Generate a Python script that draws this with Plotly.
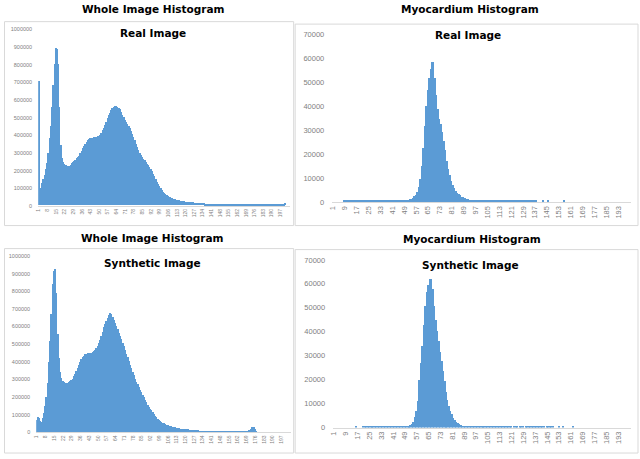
import plotly.graph_objects as go

W, H = 640, 459
BLUE = "#5B9BD5"
GREY = "#7F7F7F"
BORDER = "#D9D9D9"

# whole image histograms, counts in thousands (bins 1, 2, 3, ...)
real_whole_k = [
    705, 75, 100, 125, 150, 175, 205, 240, 300, 380,
    450, 560, 680, 800, 895, 885, 800, 560, 340, 270,
    245, 235, 228, 225, 224, 226, 232, 240, 248, 254,
    260, 268, 275, 283, 295, 310, 325, 338, 350, 360,
    370, 376, 380, 383, 385, 387, 389, 390, 392, 394,
    400, 412, 425, 440, 455, 475, 495, 510, 525, 540,
    550, 557, 561, 562, 560, 555, 545, 530, 515, 500,
    487, 475, 462, 450, 438, 420, 405, 390, 370, 350,
    330, 312, 298, 285, 275, 265, 255, 245, 237, 228,
    218, 208, 195, 180, 165, 150, 135, 122, 110, 98,
    88, 78, 70, 64, 60, 55, 50, 46, 42, 39,
    36, 34, 32, 30, 29, 27, 25, 24, 23, 22,
    21, 20, 19, 18, 17, 17, 16, 15, 15, 14,
    13, 13, 12, 12, 12, 11, 11, 11, 11, 11,
    11, 10, 10, 10, 10, 10, 10, 10, 9, 9,
    9, 9, 9, 9, 9, 8, 8, 8, 8, 8,
    8, 8, 8, 8, 8, 8, 7, 7, 7, 7,
    7, 7, 7, 7, 7, 7, 6, 6, 6, 6,
    6, 6, 6, 6, 6, 6, 6, 6, 6, 5,
    5, 5, 5, 5, 5, 5, 5, 5, 5, 5,
    12,
]
synth_whole_k = [
    72, 90, 82, 65, 62, 80, 110, 150, 200, 280,
    400, 520, 670, 840, 915, 925, 790, 560, 420, 340,
    310, 293, 285, 281, 280, 282, 286, 291, 297, 305,
    318, 333, 350, 368, 385, 402, 416, 427, 436, 442,
    446, 449, 451, 452, 453, 455, 460, 468, 478, 490,
    505, 525, 548, 572, 595, 615, 633, 650, 665, 675,
    670, 657, 640, 622, 603, 584, 565, 546, 528, 508,
    488, 466, 445, 425, 405, 385, 365, 345, 325, 305,
    288, 272, 257, 242, 228, 213, 199, 186, 172, 158,
    145, 135, 125, 115, 105, 96, 87, 79, 71, 64,
    59, 55, 51, 48, 45, 42, 39, 37, 35, 32,
    30, 29, 27, 25, 24, 22, 21, 20, 19, 18,
    17, 17, 16, 16, 15, 15, 14, 13, 13, 12,
    11, 11, 10, 10, 9, 9, 8, 8, 7, 7,
    7, 6, 6, 6, 6, 6, 6, 6, 5, 5,
    5, 5, 5, 5, 5, 5, 5, 5, 5, 5,
    5, 5, 5, 6, 6, 6, 6, 7, 8, 9,
    12, 16, 22, 33, 30, 18, 8,
]

# myocardium histograms, raw counts (bins 1, 2, 3, ...)
real_myo = [
    0, 0, 0, 0, 0, 0, 0, 0, 400, 400,
    400, 400, 400, 400, 400, 400, 400, 400, 400, 400,
    400, 400, 400, 400, 400, 400, 400, 400, 400, 400,
    400, 400, 400, 400, 400, 400, 400, 400, 400, 400,
    400, 400, 400, 400, 400, 400, 400, 400, 400, 500,
    600, 800, 1000, 1300, 1700, 2200, 2900, 3900, 6000, 9500,
    15000, 22500, 31500, 40000, 46500, 51500, 55500, 58500, 58300, 51500,
    44500, 38500, 34500, 32500, 29000, 25500, 21500, 17000, 13500, 11000,
    8500, 6800, 5500, 4500, 3800, 3100, 2600, 2100, 1800, 1500,
    1200, 1000, 850, 700, 600, 500, 450, 400, 400, 400,
    400, 400, 400, 400, 400, 400, 400, 400, 400, 400,
    400, 400, 400, 400, 400, 400, 400, 400, 400, 400,
    400, 400, 400, 400, 400, 400, 400, 400, 400, 400,
    400, 400, 400, 400, 400, 400, 400, 400, 0, 0,
    0, 0, 400, 0, 0, 400, 0, 0, 0, 0,
    0, 0, 0, 0, 0, 0, 400,
]
synth_myo = [
    0, 0, 0, 0, 0, 0, 0, 0, 0, 0,
    0, 0, 0, 0, 0, 400, 0, 0, 0, 0,
    400, 400, 400, 400, 400, 400, 400, 400, 400, 400,
    400, 400, 400, 400, 400, 400, 400, 400, 400, 400,
    400, 400, 400, 400, 400, 400, 400, 400, 400, 400,
    450, 600, 900, 1400, 2500, 4500, 7000, 11000, 20000, 27000,
    34000, 43000, 51000, 56500, 59500, 62000, 62000, 58000, 51000, 45000,
    40500, 36000, 31500, 28000, 23500, 19500, 15000, 11500, 9000, 7000,
    5500, 4200, 3200, 2500, 1900, 1400, 1100, 800, 600, 500,
    400, 400, 400, 400, 400, 400, 400, 400, 400, 400,
    400, 400, 400, 400, 400, 400, 400, 400, 400, 400,
    400, 400, 400, 400, 400, 400, 400, 400, 400, 400,
    400, 0, 400, 400, 400, 0, 400, 400, 400, 0,
    400, 400, 400, 400, 400, 400, 400, 400, 400, 400,
    400, 400, 400, 0, 400, 400, 400, 400, 400, 0,
    0, 0, 400, 0, 0, 400, 0, 0, 0, 0,
    0, 0, 400,
]

whole_xticks = [1, 8, 15, 22, 29, 36, 43, 50, 57, 64, 71, 78, 85, 92, 99, 106, 113,
                120, 127, 134, 141, 148, 155, 162, 169, 176, 183, 190, 197]
myo_xticks = [1, 9, 17, 25, 33, 41, 49, 57, 65, 73, 81, 89, 97, 105, 113, 121, 129,
              137, 145, 153, 161, 169, 177, 185, 193]
whole_yticks = [0, 100000, 200000, 300000, 400000, 500000, 600000, 700000, 800000,
                900000, 1000000]
myo_yticks = [0, 10000, 20000, 30000, 40000, 50000, 60000, 70000]

# panel layout in screen pixels: plot box (left, right, bottom, top), border box, titles
panels = [
    dict(vals=[v * 1000 for v in real_whole_k], xt=whole_xticks, yt=whole_yticks,
         xr=[0.5, 204.5], yr=[0, 1000000], box=(34.4, 287.5, 206, 26),
         border=(0.5, 18, 291.5, 226), title="Whole Image Histogram", tpos=(150, 5.5),
         sub="Real Image", spos=(150, 30), yfs=5.5, xfs=5, ystand=5),
    dict(vals=real_myo, xt=myo_xticks, yt=myo_yticks,
         xr=[0.5, 201.5], yr=[0, 70000], box=(330.3, 630.7, 202, 31),
         border=(293, 20.5, 638, 226), title="Myocardium Histogram", tpos=(469, 5.5),
         sub="Real Image", spos=(467, 32), yfs=7.5, xfs=7.5, ystand=7),
    dict(vals=[v * 1000 for v in synth_whole_k], xt=whole_xticks, yt=whole_yticks,
         xr=[0.5, 204.5], yr=[0, 1000000], box=(32.4, 288.7, 437, 257),
         border=(0.5, 249.5, 291.5, 458), title="Whole Image Histogram", tpos=(149, 238.5),
         sub="Synthetic Image", spos=(149, 264), yfs=5.5, xfs=5, ystand=5),
    dict(vals=synth_myo, xt=myo_xticks, yt=myo_yticks,
         xr=[0.5, 201.5], yr=[0, 70000], box=(331.3, 630.7, 432, 261),
         border=(293, 250.5, 638, 458), title="Myocardium Histogram", tpos=(471, 239.5),
         sub="Synthetic Image", spos=(469, 266), yfs=7.5, xfs=7.5, ystand=7),
]

fig = go.Figure()
annotations = []
shapes = []
for i, p in enumerate(panels):
    n = "" if i == 0 else str(i + 1)
    left, right, bottom, top = p["box"]
    fig.add_trace(go.Bar(x=list(range(1, len(p["vals"]) + 1)), y=p["vals"],
                         marker_color=BLUE, marker_line_width=0,
                         xaxis="x" + n, yaxis="y" + n, showlegend=False))
    fig.layout["xaxis" + n] = dict(
        domain=[left / W, right / W], range=p["xr"], anchor="y" + n,
        tickvals=p["xt"], tickangle=-90, ticks="", showgrid=False, zeroline=False,
        showline=True, linecolor=BORDER, linewidth=1,
        tickfont=dict(family="Liberation Sans", size=p["xfs"], color=GREY))
    fig.layout["yaxis" + n] = dict(
        domain=[1 - bottom / H, 1 - top / H], range=p["yr"], anchor="x" + n,
        tickvals=p["yt"], tickformat="d", ticks="", showgrid=False, zeroline=False,
        ticklabelstandoff=p["ystand"],
        tickfont=dict(family="Liberation Sans", size=p["yfs"], color=GREY))
    x0, y0, x1, y1 = p["border"]
    shapes.append(dict(type="rect", xref="paper", yref="paper",
                       x0=x0 / W, x1=x1 / W, y0=1 - y0 / H, y1=1 - y1 / H,
                       line=dict(color=BORDER, width=1)))
    for text, (tx, ty) in [(p["title"], p["tpos"]), (p["sub"], p["spos"])]:
        annotations.append(dict(text="<b>" + text + "</b>", xref="paper", yref="paper",
                                x=tx / W, y=1 - ty / H, xanchor="center", yanchor="middle",
                                showarrow=False,
                                font=dict(family="DejaVu Sans", size=10.5, color="black")))

fig.update_layout(width=W, height=H, margin=dict(l=0, r=0, t=0, b=0),
                  paper_bgcolor="white", plot_bgcolor="white", bargap=0,
                  shapes=shapes, annotations=annotations)
# the page body has a default margin; drop it so the figure sits at the window origin
fig.write_html("out.html", config={"displayModeBar": False},
               post_script="document.body.style.margin='0';")
